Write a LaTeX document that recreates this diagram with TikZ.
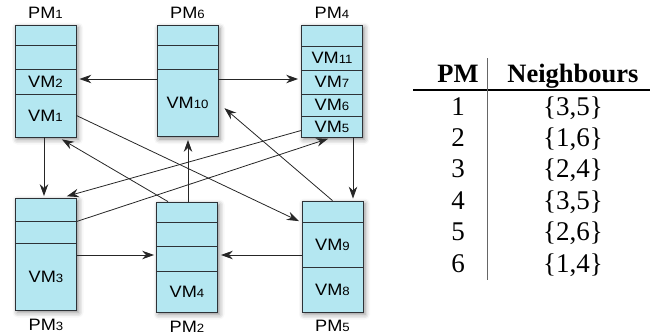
\documentclass[tikz,border=0pt]{standalone}
\usepackage{fontspec}
\setmainfont{Liberation Serif}
\newfontfamily\vmfont[FakeStretch=1.1]{Liberation Sans}
\usetikzlibrary{arrows.meta,shadows.blur}
\definecolor{vmcyan}{RGB}{180,231,241}
\definecolor{vmline}{RGB}{45,50,55}
\newcommand{\idx}[1]{{\fontsize{12}{12}\selectfont #1}}

\begin{document}
\begin{tikzpicture}[x=1pt,y=-1pt,
    pm/.style={fill=vmcyan, minimum width=61pt, inner sep=0pt,
      blur shadow={shadow xshift=2pt, shadow yshift=-2.5pt, shadow blur radius=5pt, shadow opacity=45}},
    vm/.style={draw=vmline, line width=0.8pt, fill=vmcyan, minimum width=61pt, inner sep=0pt,
      font=\vmfont\fontsize{16.5}{17}\selectfont},
    pmlabel/.style={inner sep=0pt, font=\vmfont\fontsize{16.5}{17}\selectfont},
    mig/.style={-{Stealth[length=12pt,width=8.5pt,inset=4pt]}, line width=0.8pt, black!85},
    cell/.style={anchor=base, inner sep=0pt, font=\fontsize{27}{30}\selectfont},
    head/.style={anchor=base, inner sep=0pt, font=\fontsize{26.5}{30}\selectfont\bfseries}]

    \useasboundingbox (0,0) rectangle (662,335);

    % PM1 (top left)
    \node[pm, minimum height=112pt] (pm1) at (45.5,81) {};
    \node[vm, minimum height=20pt] (pm1a) at (45.5,35) {};
    \node[vm, minimum height=24pt] (pm1b) at (45.5,57) {};
    \node[vm, minimum height=25pt] (vm2) at (45.5,81.5) {VM\idx{2}};
    \node[vm, minimum height=43pt] (vm1) at (45.5,115.5) {VM\idx{1}};
    \node[pmlabel] (lpm1) at (45.5,12.5) {PM\idx{1}};

    % PM6 (top middle)
    \node[pm, minimum height=111pt] (pm6) at (187.5,81) {};
    \node[vm, minimum height=20pt] (pm6a) at (187.5,35.5) {};
    \node[vm, minimum height=24pt] (pm6b) at (187.5,57.5) {};
    \node[vm, minimum height=67pt] (vm10) at (187.5,103) {VM\idx{10}};
    \node[pmlabel] (lpm6) at (187.5,13) {PM\idx{6}};

    % PM4 (top right)
    \node[pm, minimum height=112pt] (pm4) at (332,81) {};
    \node[vm, minimum height=21pt] (pm4a) at (332,35.5) {};
    \node[vm, minimum height=24pt] (vm11) at (332,58) {VM\idx{11}};
    \node[vm, minimum height=24pt] (vm7) at (332,82) {VM\idx{7}};
    \node[vm, minimum height=22pt] (vm6) at (332,105) {VM\idx{6}};
    \node[vm, minimum height=21pt] (vm5) at (332,126.5) {VM\idx{5}};
    \node[pmlabel] (lpm4) at (332,12.5) {PM\idx{4}};

    % PM3 (bottom left)
    \node[pm, minimum height=112pt] (pm3) at (46,254) {};
    \node[vm, minimum height=23pt] (pm3a) at (46,209.5) {};
    \node[vm, minimum height=22pt] (pm3b) at (46,232) {};
    \node[vm, minimum height=67pt] (vm3) at (46,276.5) {VM\idx{3}};
    \node[pmlabel] (lpm3) at (46,325) {PM\idx{3}};

    % PM2 (bottom middle)
    \node[pm, minimum height=110pt] (pm2) at (187,257) {};
    \node[vm, minimum height=20pt] (pm2a) at (187,212) {};
    \node[vm, minimum height=24pt] (pm2b) at (187,234) {};
    \node[vm, minimum height=25pt] (pm2c) at (187,258.5) {};
    \node[vm, minimum height=41pt] (vm4) at (187,291.5) {VM\idx{4}};
    \node[pmlabel] (lpm2) at (187,327) {PM\idx{2}};

    % PM5 (bottom right)
    \node[pm, minimum height=111pt] (pm5) at (332.5,256.5) {};
    \node[vm, minimum height=21pt] (pm5a) at (332.5,211.5) {};
    \node[vm, minimum height=45pt] (vm9) at (332.5,244.5) {VM\idx{9}};
    \node[vm, minimum height=45pt] (vm8) at (332.5,289.5) {VM\idx{8}};
    \node[pmlabel] (lpm5) at (332.5,326) {PM\idx{5}};

    % Migrations between the PMs
    \draw[mig, shorten >=3pt] (vm10.west |- 0,79) -- (vm2.east |- 0,79);
    \draw[mig, shorten >=3pt] (vm10.east |- 0,79) -- (vm7.west |- 0,79);
    \draw[mig, shorten >=1.5pt] ([xshift=-1.5pt]vm1.south) -- ([xshift=-2pt]pm3a.north);
    \draw[mig, shorten >=2pt] ([xshift=21pt]vm5.south) -- ([xshift=20.5pt]pm5a.north);
    \draw[mig, shorten >=2pt] (vm3.east |- 0,255) -- (pm2c.west |- 0,255);
    \draw[mig, shorten >=3pt] (vm9.west |- 0,255) -- (pm2c.east |- 0,255);
    \draw[mig, shorten >=3pt] ([xshift=1pt]pm2a.north) -- ([xshift=0.5pt]vm10.south);
    \draw[mig, shorten >=3pt] (vm1.east) -- (pm5a.south west);
    \draw[mig, shorten >=4pt] ([xshift=-19pt]pm2a.north) -- ([xshift=13pt]vm1.south);
    \draw[mig, shorten >=8pt] (pm5a.north) -- (vm10.east);
    \draw[mig, shorten >=5pt] ([yshift=-4pt]vm5.west) -- ([xshift=16pt]pm3a.north);
    \draw[mig, shorten >=4pt] (pm3a.south east) -- (vm5.south);

    % Neighbour table
    \node[head] (hpm) at (458,82) {PM};
    \node[head] (hnb) at (573,82) {Neighbours};
    \draw[line width=1.1pt] (413,90) -- (650,90);
    \draw[line width=0.9pt, black!60] (487,58) -- (487,280);

    \node[cell] (p1) at (458,115) {1};
    \node[cell] (nb1) at (573,115) {\{3,5\}};
    \node[cell] (p2) at (458,146) {2};
    \node[cell] (nb2) at (573,146) {\{1,6\}};
    \node[cell] (p3) at (458,177) {3};
    \node[cell] (nb3) at (573,177) {\{2,4\}};
    \node[cell] (p4) at (458,209) {4};
    \node[cell] (nb4) at (573,209) {\{3,5\}};
    \node[cell] (p5) at (458,240) {5};
    \node[cell] (nb5) at (573,240) {\{2,6\}};
    \node[cell] (p6) at (458,272) {6};
    \node[cell] (nb6) at (573,272) {\{1,4\}};

\end{tikzpicture}
\end{document}
